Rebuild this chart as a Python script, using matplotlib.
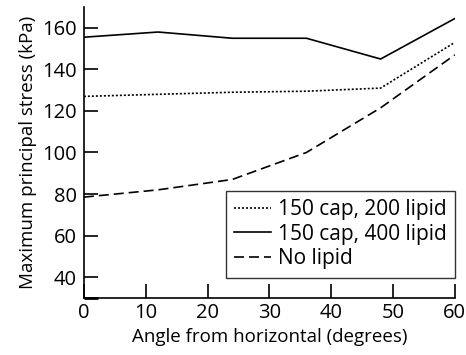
import matplotlib
matplotlib.use("Agg")
import matplotlib.pyplot as plt

angles = [0, 12, 24, 36, 48, 60]
cap150_lipid200 = [127, 128, 129, 129.5, 131, 153]
cap150_lipid400 = [155.5, 158, 155, 155, 145, 164.5]
no_lipid = [78.5, 82, 87, 100, 121.5, 147]
labels = ["150 cap, 200 lipid", "150 cap, 400 lipid", "No lipid"]
xticks = [0, 10, 20, 30, 40, 50, 60]
yticks = [40, 60, 80, 100, 120, 140, 160]

plt.rcParams['font.family'] = ['Open Sans', 'DejaVu Sans']
fig = plt.figure(figsize=(4.66, 3.55), dpi=100)
ax = fig.add_axes([0.18, 0.161, 0.796, 0.819])

ax.plot(angles, cap150_lipid200, color='black', lw=1.2, linestyle=(0, (1.2, 1.2)), label=labels[0])
ax.plot(angles, cap150_lipid400, color='black', lw=1.2, linestyle='-', label=labels[1])
ax.plot(angles, no_lipid, color='black', lw=1.2, linestyle=(0, (6, 3)), label=labels[2])

ax.set_xlim(0, 60)
ax.set_ylim(30, 170)
ax.set_xticks(xticks)
ax.set_yticks(yticks)
ax.set_yticks([30], minor=True)
ax.tick_params(which='both', direction='in', length=10, width=1.2, labelsize=14.5, pad=4)
ax.tick_params(axis='y', which='minor', length=10, width=2)
ax.tick_params(axis='y', pad=5)
for s in ['top', 'right']:
    ax.spines[s].set_visible(False)
for s in ['left', 'bottom']:
    ax.spines[s].set_linewidth(1.2)

ax.set_xlabel("Angle from horizontal (degrees)", fontsize=13.5, labelpad=3)
ax.set_ylabel("Maximum principal stress (kPa)", fontsize=13.5, labelpad=4)

leg = ax.legend(loc='lower right', bbox_to_anchor=(1.0, 0.069), fontsize=15, frameon=True,
                fancybox=False, edgecolor='black', handlelength=1.8, handletextpad=0.3,
                borderpad=0.4, labelspacing=0.18, borderaxespad=0.0)
leg.get_frame().set_linewidth(1.0)

fig.savefig("out.png", dpi=100)
